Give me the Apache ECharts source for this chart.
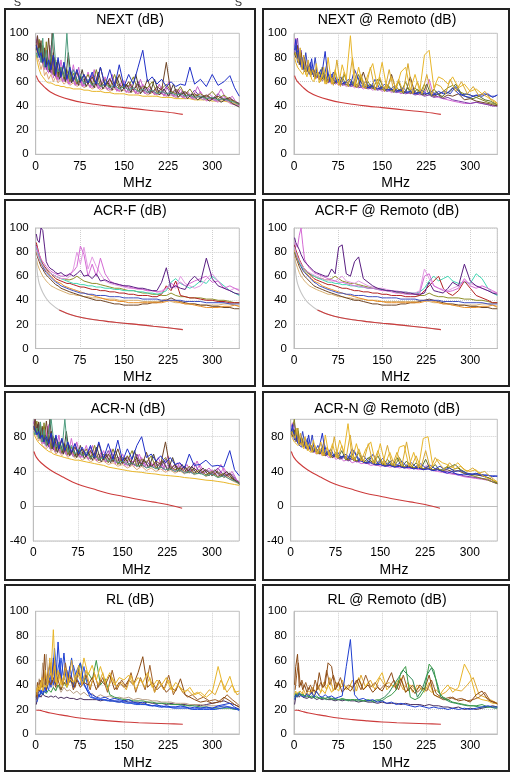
<!DOCTYPE html>
<html><head><meta charset="utf-8">
<script src="https://cdn.jsdelivr.net/npm/echarts@6.0.0/dist/echarts.min.js"></script>
<style>html,body{margin:0;padding:0;background:#fff}#c{width:510px;height:774px}</style>
</head><body><div id="c"></div>
<script>
// ---- frequency axes (MHz) ----
const FREQ = [1,3,6,9,12,15,18,22,26,30, 34,38,43,48,53,58,64,70,76,82, 89,96,103,110,118,126,134,142,150,158, 166,174,182,190,198,206,214,222,230,238, 246,254,262,270,280,290,300,310,320,330, 338,346];
const FREQ2 = [2,4.5,7.5,10.5,13.5,16.5,20,24,28,32, 36,40.5,45.5,50.5,55.5,61,67,73,79,85.5, 92.5,99.5,106.5,114,122,130,138,146,154,162, 170,178,186,194,202,210,218,226,234,242, 250,258,266,275,285,295,305,315,325,334, 342,346];
const X_TICKS = [0,75,150,225,300];

// ---- limit lines ----
const LIMF_NEXT = [1,3,6,10,15,25,40,60,80,100,125,150,175,200,225,250];
const LIM_NEXT  = [65,62.5,60,58,55.5,51.5,48,45,42.8,41.3,39.8,38.6,37.3,36,34.8,33];
const LIMF_ACRF = [1,2,3,5,8,12,18,25,40,60,80,100,125,150,175,200,225,250];
const LIM_ACRF  = [75,67,62,56,51,46.5,41.5,37.5,32,28,25.5,23.8,22.3,21,19.8,18.5,17.2,15.7];
const LIMF_ACRN = [1,5,13,28,50,75,100,125,150,175,200,225,250];
const LIM_ACRN  = [63,56.5,50,42,33.5,25.2,20,15,11.5,8,5,2,-2.4];
const LIMF_RL   = [1,3,6,10,15,25,40,50,75,100,125,150,175,200,225,250];
const LIM_RL    = [19.3,19.3,19.3,19,18.3,17.1,15.8,15,13,11.7,10.7,9.8,9.2,8.8,8.4,7.9];

// ---- NEXT ----
const next_gold = [82,76,70,66,64,62,60,59,59,58, 57,57,56,56,55,55,54,54,54,53, 53,52,52,52,51,51,50,50,50,49, 49,49,48,48,48,48,47,47,47,46, 46,46,46,45,45,45,44,44,44,43, 42,41];
const next_tan  = [88,80,76,70,75,65,68,62,66,60, 64,59,62,58,60,57,59,56,58,55, 57,54,56,53,55,52,54,52,53,51, 52,50,52,49,51,49,50,48,49,47, 48,46,50,46,48,45,47,44,46,43, 42,40];
const next_mag  = [95,84,92,76,88,70,80,67,88,63, 72,61,78,60,66,58,74,57,63,56, 68,55,60,54,64,53,57,52,61,51, 54,50,58,50,53,49,56,48,51,47, 54,46,49,45,52,44,46,43,48,42, 41,40];
const next_pur  = [92,98,82,90,75,86,70,78,67,82, 64,70,63,76,61,65,60,70,59,62, 58,66,57,60,56,63,55,58,54,57, 53,60,52,55,51,54,50,56,50,52, 49,51,48,53,47,48,46,50,45,46, 44,42];
const next_olv  = [90,85,95,78,90,73,93,70,82,66, 78,64,72,62,70,60,67,58,63,60, 66,57,70,56,62,55,66,54,58,56, 64,52,56,55,60,51,54,58,52,50, 56,49,54,48,50,47,52,46,49,45, 44,41];
const next_brn  = [86,98,82,94,78,88,74,96,70,84, 67,78,65,74,63,70,61,68,60,66, 58,64,57,72,56,62,55,66,54,60, 53,58,52,62,51,56,53,76,50,54, 49,52,48,50,47,49,46,48,45,47, 43,42];
const next_teal = [84,80,88,76,96,72,86,70,82,100, 74,68,72,64,100,62,70,60,66,58, 62,57,60,56,58,55,57,54,56,53, 55,52,54,51,53,50,52,50,51,49, 50,48,49,47,48,46,47,45,46,44, 43,41];
const next_blue = [90,86,80,84,76,80,72,78,70,82, 66,80,64,76,62,72,61,70,60,66, 59,68,58,72,57,70,56,74,56,66, 58,72,86,60,64,58,62,56,60,56, 58,57,72,58,62,56,66,57,60,65, 55,48];
const next_x1   = [90,94,80,88,74,84,70,90,66,80, 62,74,60,70,58,68,57,72,56,64, 55,70,54,62,53,66,52,60,51,58, 50,62,50,56,49,58,48,60,48,54, 47,52,46,56,46,50,45,54,44,48, 42,41];
const next_x2   = [88,82,92,76,86,72,80,68,100,65, 76,62,70,60,84,59,66,57,70,56, 62,55,68,54,60,53,64,52,58,51, 66,50,56,50,62,49,54,48,58,47, 52,46,50,45,48,44,47,43,46,42, 40,39];
const next_x3   = [86,90,78,84,72,80,68,76,66,72, 63,70,61,66,60,64,58,62,57,60, 56,59,55,58,54,57,53,56,52,55, 51,54,50,53,50,52,49,51,48,50, 47,49,46,48,45,47,44,46,44,45, 43,41];

// ---- NEXT @ Remoto ----
const nextR_gold = [80,76,72,70,68,66,70,64,72,62, 60,75,59,66,58,80,58,70,57,74, 62,98,56,72,55,66,75,56,76,54, 64,54,68,72,53,66,52,82,86,55, 64,62,58,64,55,58,52,54,50,47, 44,42];
const nextR_blue = [86,95,76,82,72,74,68,72,66,79, 64,70,62,68,85,62,66,60,62,58, 60,57,70,62,57,55,56,54,55,53, 54,52,53,51,52,50,51,50,50,49, 52,50,51,55,50,48,47,49,48,50, 47,49];
const nextR_mag  = [90,96,80,84,74,78,70,72,67,70, 64,66,62,64,60,62,58,60,57,59, 56,58,55,57,54,56,53,55,52,54, 51,53,50,52,50,51,49,50,62,48, 47,46,45,44,43,42,42,43,42,41, 40,40];
const nextR_pur  = [84,88,96,78,86,72,78,69,72,66, 68,63,64,61,63,59,61,58,60,57, 58,56,57,55,56,54,55,53,54,52, 53,51,52,50,51,49,50,48,49,47, 48,46,47,45,44,43,42,43,42,41, 40,40];
const nextR_olv  = [82,84,78,80,74,76,70,72,67,70, 64,68,62,72,60,66,59,68,58,64, 57,62,56,66,55,60,54,62,53,58, 52,56,51,60,50,55,50,58,49,54, 49,52,55,57,52,50,49,47,45,43, 42,41];
const nextR_brn  = [84,80,90,74,84,70,80,68,74,66, 70,64,68,62,66,60,64,59,62,58, 60,57,59,56,68,55,57,54,56,53, 66,52,54,51,64,50,52,49,51,48, 50,47,49,48,50,45,46,44,43,42, 41,40];
const nextR_x1   = [84,80,76,88,70,82,66,78,64,70, 62,68,60,72,58,66,57,78,56,68, 56,80,55,66,54,72,53,64,52,70, 52,62,51,75,50,60,50,66,49,58, 56,50,62,52,60,50,56,48,52,46, 44,42];
const nextR_x2   = [82,86,76,80,72,76,68,72,66,70, 63,67,61,65,60,63,58,62,57,66, 56,60,55,64,54,58,53,62,52,56, 51,60,50,55,50,54,49,58,48,52, 47,50,52,58,50,47,46,48,45,44, 42,41];
const nextR_x3   = [90,84,86,78,80,72,84,70,76,66, 80,64,70,62,74,60,68,59,64,58, 62,57,66,56,60,55,62,54,58,53, 56,52,55,51,54,50,53,50,52,49, 51,52,50,56,49,50,48,49,50,48, 48,49];

// ---- ACR-F ----
const acrf_pur  = [95,90,88,100,98,85,72,68,66,65, 63,62,63,61,60,62,60,62,65,60, 61,58,62,56,57,55,54,53,52,52, 51,50,50,49,48,48,55,67,50,52, 50,49,56,60,55,75,58,52,50,48, 46,45];
const acrf_mag  = [85,82,78,74,72,70,68,66,64,63, 62,61,60,60,61,62,64,68,85,78, 60,70,60,75,62,56,54,53,52,51, 50,50,49,48,48,47,47,50,54,52, 55,52,54,56,58,60,55,56,50,52, 50,48];
const acrf_pink = [82,78,74,71,69,67,65,63,62,61, 60,59,58,58,58,60,66,80,70,84, 66,76,68,62,56,54,53,52,51,50, 50,49,49,48,48,47,48,50,52,50, 60,54,52,50,52,58,62,56,50,48, 50,49];
const acrf_red  = [88,84,78,74,70,68,66,64,62,60, 58,57,56,55,54,54,53,52,51,51, 50,49,49,48,48,47,47,46,46,45, 45,44,44,44,43,43,45,52,48,56, 44,43,42,42,41,40,40,39,39,38, 38,38];
const acrf_brn  = [80,76,72,68,66,63,61,59,57,55, 53,52,50,49,48,47,46,45,44,43, 42,41,40,40,39,38,37,37,36,36, 36,36,37,37,38,38,39,40,42,40, 39,38,37,37,36,36,35,35,34,34, 33,33];
const acrf_org  = [82,78,74,70,68,66,64,62,60,58, 56,55,54,52,51,50,49,48,47,46, 45,44,43,42,41,40,40,39,39,38, 38,38,38,38,38,38,38,39,40,39, 38,37,37,36,35,34,34,34,35,35, 36,35];
const acrf_olv  = [80,78,76,72,70,68,66,64,62,61, 60,59,58,58,57,57,58,60,58,56, 55,54,54,53,52,51,50,50,49,48, 48,47,46,46,45,45,44,44,46,44, 43,43,42,42,42,41,41,40,40,39, 38,38];
const acrf_cyan = [84,80,76,72,69,67,65,63,62,61, 60,59,58,57,56,55,54,54,53,53, 52,52,51,51,50,50,49,49,48,48, 48,47,47,46,46,45,46,48,55,58, 54,52,50,52,56,54,60,56,52,48, 46,44];
const acrf_blue = [86,80,75,71,68,65,63,61,59,57, 55,54,52,51,50,49,48,47,46,46, 45,45,44,44,44,43,43,43,42,42, 42,42,41,41,41,41,40,40,40,40, 40,39,39,39,39,38,38,38,38,37, 37,37];
const acrf_tan  = [75,70,66,63,60,58,56,54,52,51, 50,49,48,47,46,45,45,44,44,43, 43,42,42,42,41,41,41,40,40,40, 40,40,39,39,39,39,40,41,39,38, 38,37,37,37,36,36,36,36,37,37, 36,35];

// ---- ACR-F @ Remoto ----
const acrfR_pur  = [92,88,85,82,78,75,72,70,68,66, 64,63,62,61,60,60,66,62,84,86, 62,60,72,76,58,55,52,50,49,48, 48,47,47,46,46,45,45,46,55,48, 47,46,50,55,52,70,56,52,50,48, 46,45];
const acrfR_mag  = [88,86,84,94,100,86,74,70,67,65, 63,62,61,60,59,58,57,56,55,55, 54,53,52,52,51,50,50,49,48,48, 47,46,46,45,45,45,46,60,62,52, 50,48,47,48,50,58,52,50,52,50, 48,46];
const acrfR_pink = [84,80,76,73,70,68,66,64,63,62, 61,60,59,58,57,57,56,56,58,60, 56,55,54,56,54,52,51,50,50,49, 48,48,47,47,46,46,48,66,58,52, 50,49,48,50,52,56,54,52,50,48, 47,46];
const acrfR_red  = [86,82,78,74,71,68,66,64,62,60, 58,57,56,55,54,53,53,52,51,50, 50,49,48,48,47,47,46,46,45,45, 44,44,44,43,43,43,44,48,52,56, 60,50,46,44,48,56,50,44,42,40, 38,38];
const acrfR_cyan = [84,80,76,72,69,67,65,63,62,61, 60,59,58,57,56,55,55,54,54,53, 53,52,52,51,51,50,50,49,49,48, 48,47,47,47,46,46,47,50,56,60, 56,58,60,56,54,55,54,62,58,50, 46,44];
const acrfR_brn  = [80,76,72,68,65,62,60,58,56,54, 52,51,50,49,48,47,46,45,44,43, 42,41,40,40,39,38,37,37,36,36, 36,36,37,37,38,38,39,40,41,40, 39,38,37,37,36,36,35,35,34,34, 33,33];
const acrfR_org  = [82,78,74,70,68,66,64,62,60,58, 56,55,54,52,51,50,49,48,47,46, 45,44,43,42,41,40,40,39,39,38, 38,38,38,38,38,38,38,39,40,39, 38,37,37,36,35,34,34,34,35,35, 36,35];
const acrfR_olv  = [80,78,76,72,70,68,66,64,62,61, 60,59,58,58,57,57,58,60,58,56, 55,54,54,53,52,51,50,50,49,48, 48,47,46,46,45,45,44,44,46,44, 43,43,42,42,42,41,41,40,40,39, 38,38];
const acrfR_blue = [86,80,75,71,68,65,63,61,59,57, 55,54,52,51,50,49,48,47,46,46, 45,45,44,44,44,43,43,43,42,42, 42,42,41,41,41,41,40,40,40,40, 40,39,39,39,39,38,38,38,38,37, 37,37];
const acrfR_tan  = [76,71,67,63,60,58,56,54,52,51, 50,49,48,47,46,45,45,44,43,43, 42,42,41,41,41,40,40,40,39,39, 39,39,39,39,39,39,40,40,39,38, 38,37,37,36,36,36,36,36,37,37, 36,34];

// ---- ACR-N ----
const acrn_gold = [84,80,76,73,71,69,67,65,63,62, 60,59,58,57,56,55,54,53,53,52, 51,50,49,48,47,45,44,43,42,41, 40,39.5,39,38,37.5,37,36,35.5,35,34.5, 34,33,32.5,32,31,30,29.5,28.5,27.5,26, 25,24];
const acrn_tan  = [90,84,80,75,78,70,72,66,70,63, 66,60,63,58,62,56,60,55,58,53, 56,51,54,50,52,48,50,46,48,44, 47,42,46,41,44,40,43,39,42,38, 41,37,43,36,40,34,38,33,36,31, 28,26];
const acrn_mag  = [98,86,95,78,92,72,84,68,94,65, 76,62,82,60,70,58,78,57,64,56, 70,54,62,52,64,50,58,48,60,46, 52,45,56,44,50,43,52,41,48,40, 50,38,46,37,48,35,42,34,44,32, 29,27];
const acrn_pur  = [95,100,84,96,78,90,72,82,68,86, 65,72,64,78,62,66,60,72,58,62, 57,68,55,60,54,64,52,57,50,56, 48,60,47,52,46,50,44,54,43,48, 42,46,40,50,38,42,36,44,35,38, 32,28];
const acrn_olv  = [92,86,98,80,94,74,96,70,84,66, 80,63,74,61,72,59,68,57,64,58, 66,54,70,52,60,50,66,48,56,52, 64,46,54,50,58,44,50,56,46,42, 44,40,46,38,42,36,40,34,38,33, 30,26];
const acrn_brn  = [88,100,84,97,80,92,76,98,72,86, 68,80,66,76,63,72,61,68,59,66, 57,64,55,72,53,60,51,66,49,58, 48,56,46,62,45,52,48,74,42,48, 40,46,38,44,37,42,35,40,33,38, 30,27];
const acrn_teal = [86,82,90,78,97,74,88,70,84,100, 76,68,74,64,100,62,70,60,66,58, 62,56,58,54,56,52,54,50,52,48, 50,46,48,44,46,43,45,42,43,40, 42,38,40,37,38,35,37,33,35,31, 29,26];
const acrn_blue = [92,88,82,86,78,82,74,80,72,84, 68,82,66,78,64,74,62,72,60,68, 58,70,56,74,55,72,54,76,52,66, 54,70,80,56,60,52,58,50,56,48, 50,44,60,47,48,53,46,47,45,64, 42,35];
const acrn_x1   = [92,96,82,90,76,86,72,92,68,82, 64,76,62,72,60,70,58,74,56,64, 54,70,52,62,51,66,49,58,47,56, 46,60,45,54,44,56,42,58,41,50, 40,48,38,52,37,44,36,48,34,40, 30,27];
const acrn_x2   = [90,84,94,78,88,74,82,70,100,66, 78,62,72,60,86,58,66,56,70,55, 62,53,68,51,60,50,64,48,56,46, 64,45,54,44,60,42,52,41,56,40, 48,38,46,37,44,35,42,34,40,32, 28,25];
const acrn_x3   = [88,92,80,86,74,82,70,78,66,74, 63,70,61,66,59,64,57,62,56,60, 54,58,53,57,51,55,50,54,48,52, 47,51,46,49,45,48,44,47,43,46, 42,44,40,43,38,41,36,39,35,37, 29,26];

// ---- ACR-N @ Remoto ----
const acrnR_gold = [82,78,74,72,70,68,72,66,74,64, 62,76,60,68,58,82,58,72,56,76, 62,95,54,72,52,66,74,50,72,48, 62,47,68,70,46,62,44,78,80,46, 54,50,48,44,50,42,40,42,36,32, 30,28];
const acrnR_blue = [86,94,76,80,72,74,68,72,66,82, 64,70,62,68,84,60,64,58,60,56, 58,55,66,58,52,50,50,48,48,46, 47,45,46,44,45,43,44,42,43,41, 42,40,38,40,36,37,36,38,35,36, 34,35];
const acrnR_mag  = [92,96,82,86,75,78,70,72,66,68, 63,64,60,62,58,60,56,58,54,56, 52,54,50,52,49,50,47,48,46,47, 45,46,44,45,43,44,42,43,48,41, 40,39,38,37,36,34,33,32,31,30, 28,26];
const acrnR_pur  = [86,90,96,80,86,74,78,70,72,66, 68,62,64,60,62,58,60,56,58,54, 56,52,54,51,52,49,50,47,48,46, 47,45,46,44,45,43,44,42,43,41, 42,40,40,38,37,35,34,33,32,31, 28,26];
const acrnR_olv  = [84,86,100,82,90,76,80,72,74,68, 70,64,66,62,68,60,64,58,62,56, 58,54,60,52,56,50,58,48,54,47, 52,46,56,45,50,44,48,43,46,42, 44,40,46,42,44,38,36,34,32,30, 28,26];
const acrnR_brn  = [84,80,88,74,84,70,80,68,74,65, 70,63,66,60,64,58,62,56,60,55, 58,53,56,52,54,50,52,48,50,47, 48,46,47,45,46,44,45,43,44,42, 43,41,42,40,41,38,37,36,35,33, 30,27];
const acrnR_x1   = [86,82,78,90,72,84,68,80,64,72, 62,70,60,74,58,68,56,80,55,70, 54,82,52,66,51,72,49,64,48,70, 47,62,46,74,45,58,44,64,43,56, 48,42,50,43,46,40,44,38,40,34, 30,28];
const acrnR_x2   = [84,88,78,82,72,76,68,72,65,70, 62,66,60,64,58,62,56,60,55,64, 53,58,52,62,50,56,49,58,47,54, 46,56,45,52,44,50,43,54,42,48, 41,44,45,48,42,38,36,38,34,32, 28,26];
const acrnR_x3   = [92,86,88,80,82,74,86,70,78,66, 82,63,70,61,74,59,66,57,62,55, 60,54,64,52,58,51,60,49,55,48, 53,47,52,46,50,45,49,44,47,43, 46,42,44,40,41,38,37,37,36,35, 35,34];

// ---- RL ----
const rl_gold  = [34,38,36,42,35,40,38,45,50,85, 42,52,40,48,38,45,42,50,44,62, 48,56,44,55,42,50,40,46,44,48, 40,46,42,50,38,44,40,46,36,42, 38,34,38,32,34,30,34,55,36,47, 34,35];
const rl_brn   = [30,42,35,40,38,65,36,44,40,46, 38,44,36,42,40,48,36,44,38,42, 40,46,36,44,40,48,36,42,38,44, 40,50,63,38,42,36,40,34,38,35, 45,32,30,28,26,27,25,26,30,27, 24,22];
const rl_tan   = [32,36,45,38,58,42,65,40,55,38, 36,40,34,38,35,36,33,35,32,34, 31,33,30,32,30,31,29,30,29,30, 28,29,28,28,27,27,26,26,26,25, 25,25,24,24,24,23,23,23,22,22, 21,21];
const rl_blue  = [28,34,30,36,32,38,34,50,38,62, 40,75,42,66,40,55,38,52,58,40, 34,32,30,29,30,28,29,28,27,28, 26,25,26,24,23,24,22,23,22,22, 23,22,21,22,21,22,21,23,24,25, 22,20];
const rl_blue2 = [30,32,35,33,36,34,40,36,48,40, 56,42,62,44,52,42,56,45,40,55, 36,30,29,28,28,27,27,27,26,26, 25,25,24,24,23,23,23,22,22,22, 22,22,21,21,21,21,21,22,23,22, 21,20];
const rl_grn   = [30,33,31,34,32,35,33,36,34,38, 35,40,36,42,38,44,40,48,58,42, 50,44,60,40,45,32,30,29,28,28, 27,27,27,26,26,25,25,25,24,24, 24,23,23,23,22,22,21,21,21,21, 20,20];
const rl_dpur  = [24,30,32,30,33,31,32,30,31,30, 31,29,30,29,30,29,29,28,29,28, 28,28,28,27,28,27,27,26,27,26, 26,26,25,26,25,25,25,24,25,24, 24,24,23,24,23,24,25,26,27,25, 24,22];
const rl_x1    = [28,36,44,38,52,40,48,56,42,60, 44,50,40,58,42,46,38,52,40,48, 36,50,38,46,34,52,36,44,38,50, 34,46,36,56,34,44,36,48,32,40, 34,30,32,28,30,27,28,26,32,28, 25,23];
const rl_x2    = [32,40,36,46,38,52,40,62,44,56, 40,48,38,54,40,60,42,56,40,52, 38,48,40,50,36,46,38,42,36,48, 36,44,38,46,34,42,36,44,34,40, 34,36,32,34,30,36,32,44,34,40, 32,33];
const rl_x3    = [26,30,32,34,38,45,40,58,44,70, 48,60,40,52,46,62,42,50,44,38, 30,29,28,28,27,27,26,26,25,25, 24,24,24,23,23,22,22,22,21,21, 21,21,20,20,20,20,20,21,22,21, 20,19];

// ---- RL @ Remoto ----
const rlR_brn  = [40,55,65,38,42,36,40,34,38,33, 36,34,50,38,40,58,55,36,42,34, 38,35,40,45,36,40,34,38,35,42, 50,36,45,34,38,33,40,36,48,32, 30,28,28,30,27,28,26,32,35,28, 26,25];
const rlR_gold = [32,35,30,33,31,34,30,33,32,35, 31,34,32,36,33,40,34,38,35,44, 36,40,34,46,36,42,38,44,50,36, 40,38,46,34,40,36,38,34,42,32, 30,36,40,34,38,57,48,30,28,27, 25,25];
const rlR_blue = [28,32,30,33,31,32,30,33,31,34, 30,35,31,30,32,30,31,29,30,31, 55,77,32,28,29,27,28,26,27,25, 26,24,25,24,23,22,23,22,21,22, 21,21,20,21,20,21,20,21,22,23, 22,22];
const rlR_grn  = [30,33,31,34,32,33,31,32,30,31, 30,31,29,30,29,30,29,29,28,29, 28,28,28,28,27,28,27,28,27,30, 32,36,50,55,30,28,30,36,57,52, 34,30,28,26,25,24,23,23,24,22, 22,22];
const rlR_dpur = [24,30,33,30,32,30,31,29,30,29, 30,28,29,28,29,28,28,27,28,27, 28,27,27,26,27,26,26,25,26,25, 25,25,24,25,24,24,24,23,24,23, 23,22,22,21,22,20,21,20,21,22, 23,22];
const rlR_x1   = [36,48,58,40,44,38,42,36,40,35, 44,36,42,38,52,40,48,38,46,36, 40,38,44,36,48,38,42,36,40,38, 44,36,48,35,40,34,38,35,44,33, 30,29,30,28,29,27,28,30,34,27, 26,24];
const rlR_x2   = [30,33,32,35,33,36,32,35,34,38, 33,40,34,42,36,46,35,42,38,40, 36,44,35,48,38,44,36,46,40,42, 38,44,36,42,34,40,36,38,34,36, 32,34,38,36,35,40,46,32,30,28, 26,25];
const rlR_x3   = [29,31,30,32,31,32,30,31,30,30, 29,30,29,29,28,29,28,28,28,28, 27,28,27,27,27,27,26,28,30,34, 40,46,52,48,44,30,36,48,54,44, 30,28,26,25,24,23,23,22,22,22, 21,21];

// ---- styles ----
const C = {
  gold:'#e8b62a', tan:'#e0a878', mag:'#d46ad4', pur:'#7d3ca8', olv:'#868622', brn:'#6e4424',
  teal:'#4e9c7e', blue:'#2030c8', dpur:'#5a1e82', pink:'#e39be3', red:'#b22222', org:'#e8902a',
  olv2:'#8f8f2a', cyan:'#3fd6b2', blue3:'#4050c0', tan2:'#d8b070', rlbrn:'#8b4a14', rltan:'#b8a088',
  rlblue:'#1e3ed0', rlblue2:'#2b55e6', grn:'#3a9a48', dp2:'#4a3060', lim:'#cc3b3b', gray:'#c4c4c4',
  mag2:'#c862c8', dbrn:'#4a4030', lav:'#a080c8', gold2:'#d8a830', dgrn:'#5a7030', blue2:'#3040c0',
  brn2:'#a0602a', gold3:'#e0a830', blue4:'#2450d8', grn2:'#2f8a5a'
};

const Y100 = {min:0, max:100, interval:20};
const YACRN = {min:-40, max:100, interval:40};
const LX = 35.7, LW = 203.6, RX = 294, RW = 203.3;

const panels = [
  {title:'NEXT (dB)', g:[LX,33.3,LW,121], box:[5,9,250,185], tx:130, ty:20.5, y:Y100,
   lines:[[next_gold,C.gold],[next_tan,C.tan],[next_x3,C.lav,FREQ2],[next_mag,C.mag],[next_pur,C.pur],[next_x1,C.mag2,FREQ2],[next_olv,C.olv],[next_brn,C.brn],[next_x2,C.dbrn,FREQ2],[next_teal,C.teal],[next_blue,C.blue]],
   lim:[[LIMF_NEXT,LIM_NEXT,C.lim,0]]},
  {title:'NEXT @ Remoto (dB)', g:[RX,33.3,RW,121], box:[263,9,246,185], tx:387, ty:20.5, y:Y100,
   lines:[[nextR_mag,C.mag],[nextR_pur,C.pur],[nextR_brn,C.brn],[nextR_x2,C.dgrn,FREQ2],[nextR_olv,C.olv],[nextR_blue,C.blue],[nextR_x3,C.blue2,FREQ2],[nextR_x1,C.gold2,FREQ2],[nextR_gold,C.gold]],
   lim:[[LIMF_NEXT,LIM_NEXT,C.lim,0]]},
  {title:'ACR-F (dB)', g:[LX,228,LW,120.5], box:[5,200,250,186], tx:130, ty:211, y:Y100,
   lines:[[acrf_tan,C.tan2],[acrf_brn,C.brn],[acrf_org,C.org],[acrf_blue,C.blue3],[acrf_olv,C.olv2],[acrf_red,C.red],[acrf_cyan,C.cyan],[acrf_pink,C.pink],[acrf_mag,C.mag],[acrf_pur,C.dpur]],
   lim:[[LIMF_ACRF,LIM_ACRF,C.gray,0],[LIMF_ACRF,LIM_ACRF,C.lim,40]]},
  {title:'ACR-F @ Remoto (dB)', g:[RX,228,RW,120.5], box:[263,200,246,186], tx:387, ty:211, y:Y100,
   lines:[[acrfR_tan,C.tan2],[acrfR_brn,C.brn],[acrfR_org,C.org],[acrfR_blue,C.blue3],[acrfR_olv,C.olv2],[acrfR_cyan,C.cyan],[acrfR_red,C.red],[acrfR_pink,C.pink],[acrfR_mag,C.mag],[acrfR_pur,C.dpur]],
   lim:[[LIMF_ACRF,LIM_ACRF,C.gray,0],[LIMF_ACRF,LIM_ACRF,C.lim,40]]},
  {title:'ACR-N (dB)', g:[33.3,419.3,206,121.7], box:[5,392,250,188], tx:128, ty:409, y:YACRN,
   lines:[[acrn_gold,C.gold],[acrn_tan,C.tan],[acrn_x3,C.lav,FREQ2],[acrn_mag,C.mag],[acrn_pur,C.pur],[acrn_x1,C.mag2,FREQ2],[acrn_olv,C.olv],[acrn_brn,C.brn],[acrn_x2,C.dbrn,FREQ2],[acrn_teal,C.teal],[acrn_blue,C.blue]],
   lim:[[LIMF_ACRN,LIM_ACRN,C.lim,0]]},
  {title:'ACR-N @ Remoto (dB)', g:[290.7,419.3,206.6,121.7], box:[263,392,246,188], tx:387, ty:409, y:YACRN,
   lines:[[acrnR_mag,C.mag],[acrnR_pur,C.pur],[acrnR_brn,C.brn],[acrnR_x2,C.dgrn,FREQ2],[acrnR_olv,C.olv],[acrnR_blue,C.blue],[acrnR_x3,C.blue2,FREQ2],[acrnR_x1,C.gold2,FREQ2],[acrnR_gold,C.gold]],
   lim:[[LIMF_ACRN,LIM_ACRN,C.lim,0]]},
  {title:'RL (dB)', g:[LX,611.3,LW,122.7], box:[5,585,250,186], tx:130, ty:600.5, y:Y100,
   lines:[[rl_dpur,C.dp2],[rl_tan,C.rltan],[rl_grn,C.grn],[rl_blue2,C.rlblue2],[rl_x3,C.blue4,FREQ2],[rl_blue,C.rlblue],[rl_x1,C.brn2,FREQ2],[rl_brn,C.rlbrn],[rl_x2,C.gold3,FREQ2],[rl_gold,C.gold]],
   lim:[[LIMF_RL,LIM_RL,C.lim,0]]},
  {title:'RL @ Remoto (dB)', g:[RX,611.3,RW,122.7], box:[263,585,246,186], tx:387, ty:600.5, y:Y100,
   lines:[[rlR_dpur,C.dp2],[rlR_x2,C.gold3,FREQ2],[rlR_gold,C.gold],[rlR_x1,C.brn2,FREQ2],[rlR_brn,C.rlbrn],[rlR_x3,C.grn2,FREQ2],[rlR_grn,C.grn],[rlR_blue,C.rlblue]],
   lim:[[LIMF_RL,LIM_RL,C.lim,0]]}
];

const FONT = '"Liberation Sans", Arial, Helvetica, sans-serif';
const GRID_C = '#bdbdbd', SPLIT_C = '#cfcfcf';

const grids = [], xAxes = [], yAxes = [], series = [], graphics = [];
panels.forEach((p, i) => {
  grids.push({left:p.g[0], top:p.g[1], width:p.g[2], height:p.g[3], show:true,
    borderColor:GRID_C, borderWidth:1, backgroundColor:'transparent', containLabel:false, outerBoundsMode:'none'});
  xAxes.push({type:'value', gridIndex:i, min:X_TICKS[0], max:FREQ[FREQ.length-1], interval:X_TICKS[1]-X_TICKS[0],
    name:'MHz', nameLocation:'middle', nameGap:22,
    nameTextStyle:{fontSize:14, color:'#000', fontFamily:FONT},
    axisLine:{show:true, lineStyle:{color:GRID_C, width:1}}, axisTick:{show:false},
    axisLabel:{fontSize:12, color:'#000', margin:6, fontFamily:FONT, showMaxLabel:false},
    splitLine:{show:true, lineStyle:{type:'dotted', color:SPLIT_C, width:1}}});
  yAxes.push({type:'value', gridIndex:i, min:p.y.min, max:p.y.max, interval:p.y.interval,
    axisLine:{show:true, lineStyle:{color:GRID_C, width:1}}, axisTick:{show:false},
    axisLabel:{fontSize:11.5, color:'#000', margin:7, fontFamily:FONT, showMaxLabel:(p.y.max - p.y.min) % p.y.interval === 0},
    splitLine:{show:true, lineStyle:{type:'dotted', color:SPLIT_C, width:1}}});
  p.lines.forEach(([vals, col, fx]) => {
    const fr = fx || FREQ;
    series.push({type:'line', xAxisIndex:i, yAxisIndex:i, data:fr.map((f, k) => [f, vals[k]]),
      symbol:'none', showSymbol:false, silent:true, lineStyle:{width:1, color:col}, itemStyle:{color:col}, z:2});
  });
  p.lim.forEach(([fs, vals, col, fmin]) => {
    series.push({type:'line', xAxisIndex:i, yAxisIndex:i,
      data:fs.map((f, k) => [f, vals[k]]).filter(d => d[0] >= fmin),
      smooth:0.35, symbol:'none', showSymbol:false, silent:true,
      lineStyle:{width:1.1, color:col}, itemStyle:{color:col}, z:3});
  });
  graphics.push({type:'rect', shape:{x:p.box[0], y:p.box[1], width:p.box[2], height:p.box[3]},
    style:{fill:'none', stroke:'#222', lineWidth:2}, silent:true, z:10});
  graphics.push({type:'text', x:p.tx, y:p.ty, silent:true, z:10,
    style:{text:p.title, fontSize:14, fontFamily:FONT, fill:'#000', align:'center', verticalAlign:'middle'}});
});
// clipped glyphs at the very top edge
graphics.push({type:'text', x:17.5, y:2.5, silent:true, style:{text:'S', fontSize:11, fontFamily:FONT, fill:'#333', align:'center', verticalAlign:'middle'}});
graphics.push({type:'text', x:238.5, y:2.5, silent:true, style:{text:'S', fontSize:11, fontFamily:FONT, fill:'#333', align:'center', verticalAlign:'middle'}});

const chart = echarts.init(document.getElementById('c'), null, {renderer:'canvas', width:510, height:774});
chart.setOption({
  animation:false, backgroundColor:'#fff', textStyle:{fontFamily:FONT},
  grid:grids, xAxis:xAxes, yAxis:yAxes, series:series, graphic:graphics
});
</script></body></html>
